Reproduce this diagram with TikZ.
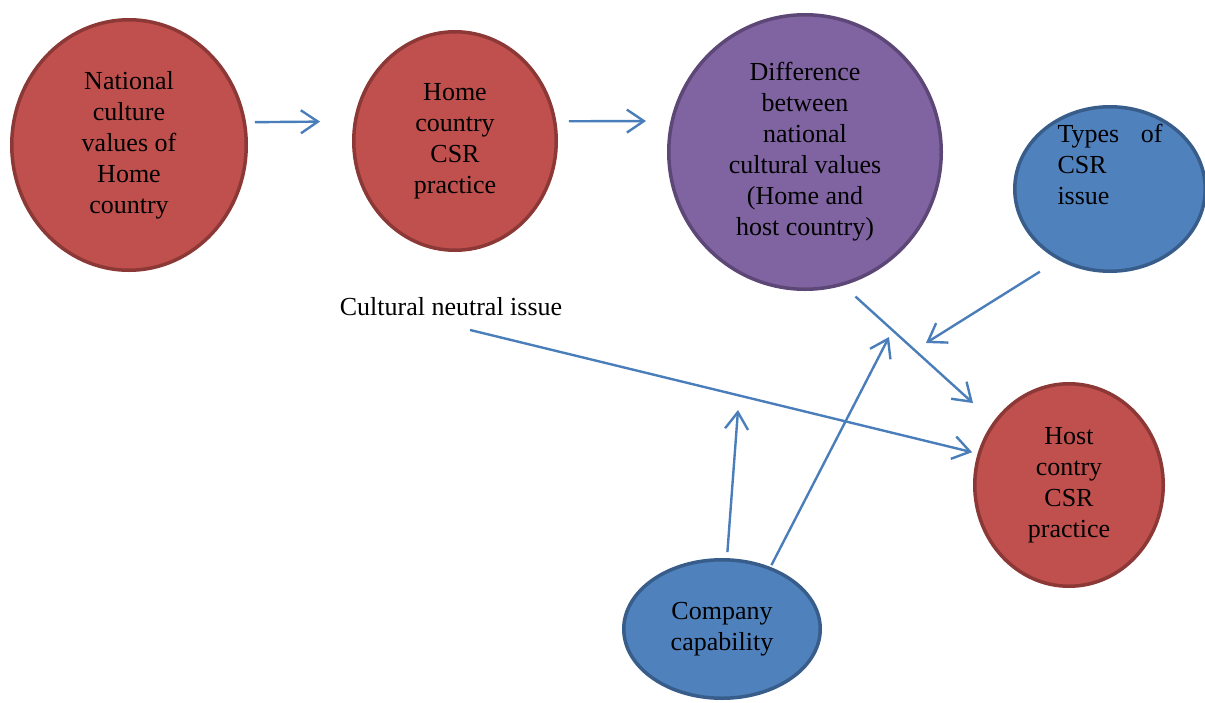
\documentclass[tikz,border=0pt]{standalone}
\usepackage{fontspec}
\setmainfont{Liberation Serif}
\usepackage{xcolor}
\definecolor{circrojo}{RGB}{192,80,77}
\definecolor{circrojoborde}{RGB}{140,56,54}
\definecolor{circlila}{RGB}{128,100,162}
\definecolor{circlilaborde}{RGB}{92,71,118}
\definecolor{circazul}{RGB}{79,129,189}
\definecolor{circazulborde}{RGB}{56,93,138}
\definecolor{azulflecha}{RGB}{74,126,187}
\usetikzlibrary{shapes.geometric, arrows.meta, positioning}

\begin{document}
\begin{tikzpicture}[x=1pt, y=-1pt,
    texto/.style={align=center, font=\fontsize{26}{31}\selectfont},
    circulo/.style={texto, ellipse, inner sep=0pt, line width=3.5pt},
    rojo/.style={circulo, fill=circrojo, draw=circrojoborde},
    lila/.style={circulo, fill=circlila, draw=circlilaborde},
    azul/.style={circulo, fill=circazul, draw=circazulborde},
    flecha/.style={draw=azulflecha, line width=2.4pt, -{Straight Barb[length=17pt,width=23pt]}}]
      \useasboundingbox (0,0) rectangle (1205,702);

      % Circulos
      \node[rojo, minimum width=234.5pt, minimum height=250.5pt] (nacional) at (129,145)
        {National\\culture\\values of\\Home\\country};
      \node[rojo, minimum width=202.5pt, minimum height=218.5pt] (home) at (455,141)
        {Home\\country\\CSR\\practice};
      \node[lila, minimum width=272.5pt, minimum height=274.5pt] (diferencia) at (805,152)
        {Difference\\between\\national\\cultural values\\(Home and\\host country)};
      \node[azul, minimum width=190.5pt, minimum height=164.5pt] (tipos) at (1110,189) {};
      \node[texto, text width=105pt, align=left] (tipostxt) at ([yshift=25pt]tipos.center)
        {Types \hfill of\\CSR\\issue};
      \node[rojo, minimum width=188.5pt, minimum height=202.5pt] (host) at (1069,485)
        {Host\\contry\\CSR\\practice};
      \node[azul, minimum width=196.5pt, minimum height=138.5pt] (empresa) at (722,629)
        {Company\\capability};

      % Texto suelto
      \node[texto, inner ysep=9pt] (neutral) at (451,307) {Cultural neutral issue};

      % Puntos libres
      \coordinate (puntoa) at (926,343);
      \coordinate (puntob) at (889,337);
      \coordinate (puntoc) at (738,410);

      % Flechas
      \draw[flecha, shorten <=8.9pt, shorten >=33.6pt] (nacional.11) -- (home.169);
      \draw[flecha, shorten <=12.6pt, shorten >=24.5pt] (home.11) -- (diferencia.167);
      \draw[flecha, shorten <=16.4pt, shorten >=27.5pt] (diferencia.-74) -- (host.140);
      \draw[flecha, shorten <=21.8pt] (tipos.234) -- (puntoa);
      \draw[flecha, shorten <=19.6pt, shorten >=5.6pt] (neutral.south) -- (host.161.5);
      \draw[flecha, shorten <=6pt] (empresa.86) -- (puntoc);
      \draw[flecha, shorten <=2pt] (empresa.52) -- (puntob);
\end{tikzpicture}
\end{document}
